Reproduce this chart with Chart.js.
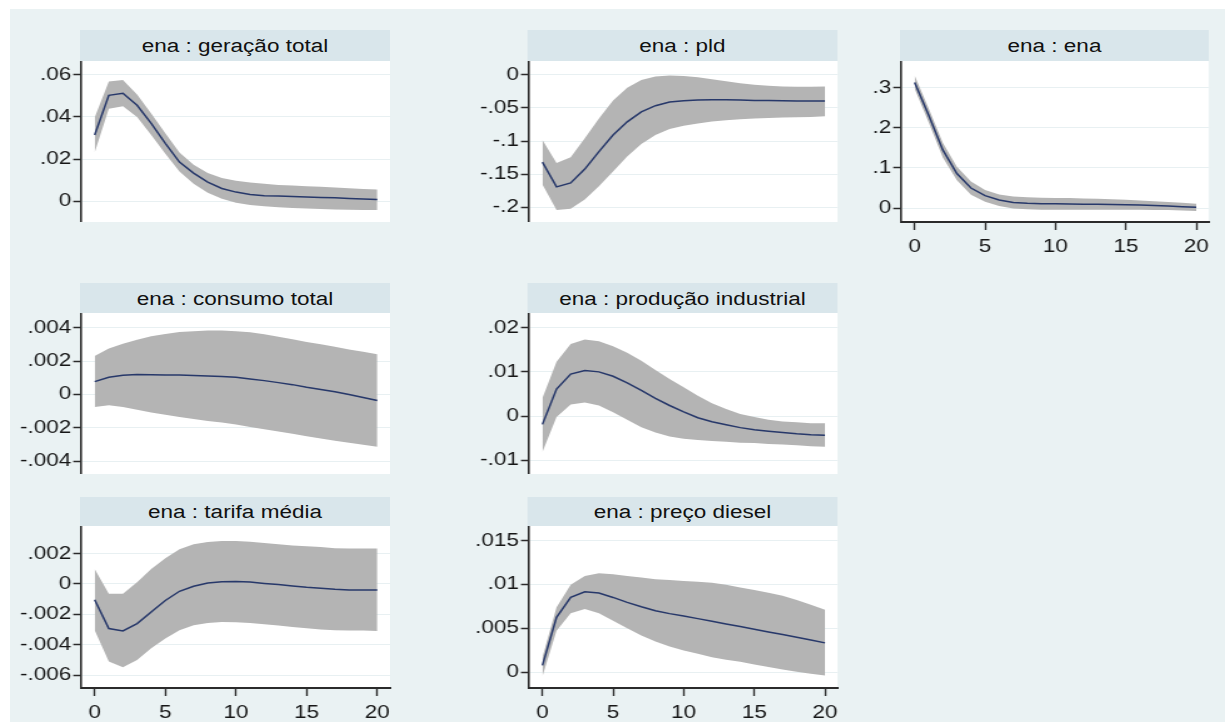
<!DOCTYPE html>
<html lang="pt">
<head>
<meta charset="utf-8">
<title>ena : funções de resposta ao impulso</title>
<script src="https://cdn.jsdelivr.net/npm/chart.js@4.4.1/dist/chart.umd.min.js"></script>
<style>
  html, body { margin: 0; padding: 0; background: #fff; overflow: hidden; }
  #stage { position: absolute; left: 0; top: 0; height: 722px; transform-origin: 0 0; }
  #stage div { position: absolute; }
  .bg { background: #eaf2f3; }
  .head {
    background: #d9e6eb;
    color: #111;
    font: 18px "Liberation Sans", Arial, sans-serif;
    text-align: center;
    box-sizing: border-box;
    padding-top: 1px;
  }
  .plotbg { background: #fff; }
</style>
</head>
<body>
<div id="stage"></div>
<script>
// ---------- horizonte (passos) ----------
const steps = [0, 1, 2, 3, 4, 5, 6, 7, 8, 9, 10, 11, 12, 13, 14, 15, 16, 17, 18, 19, 20];
const xTicks = [0, 5, 10, 15, 20];

// ---------- ena : geração total ----------
const geracaoIrf = [0.0314, 0.0502, 0.0512, 0.0455, 0.0369, 0.0275, 0.0186, 0.0134, 0.0091, 0.0061, 0.0044, 0.0033, 0.0027, 0.0025, 0.0023, 0.0021, 0.0019, 0.0017, 0.0014, 0.0011, 0.0009];
const geracaoHi = [0.0397, 0.0567, 0.0575, 0.0506, 0.0416, 0.0322, 0.0231, 0.0173, 0.0134, 0.0111, 0.0098, 0.0089, 0.0083, 0.0078, 0.0075, 0.0072, 0.0069, 0.0066, 0.0062, 0.0059, 0.0056];
const geracaoLo = [0.0231, 0.0439, 0.0450, 0.0400, 0.0314, 0.0225, 0.0142, 0.0083, 0.0041, 0.0013, -0.0006, -0.0017, -0.0023, -0.0028, -0.0031, -0.0034, -0.0036, -0.0038, -0.0039, -0.0041, -0.0041];
const geracaoTicks = [0, 0.02, 0.04, 0.06];

// ---------- ena : pld ----------
const pldIrf = [-0.1318, -0.1691, -0.1632, -0.1423, -0.1159, -0.0910, -0.0711, -0.0562, -0.0468, -0.0413, -0.0393, -0.0383, -0.0378, -0.0378, -0.0381, -0.0388, -0.0391, -0.0394, -0.0398, -0.0398, -0.0398];
const pldHi = [-0.0985, -0.1333, -0.1244, -0.0960, -0.0662, -0.0388, -0.0199, -0.0080, -0.0030, -0.0015, -0.0020, -0.0040, -0.0070, -0.0100, -0.0129, -0.0154, -0.0169, -0.0179, -0.0184, -0.0184, -0.0179];
const pldLo = [-0.1657, -0.2040, -0.2020, -0.1881, -0.1682, -0.1458, -0.1234, -0.1045, -0.0910, -0.0821, -0.0771, -0.0736, -0.0706, -0.0687, -0.0672, -0.0662, -0.0652, -0.0647, -0.0642, -0.0637, -0.0627];
const pldTicks = [-0.2, -0.15, -0.1, -0.05, 0];

// ---------- ena : ena ----------
const enaIrf = [0.313, 0.231, 0.145, 0.086, 0.050, 0.031, 0.020, 0.014, 0.012, 0.011, 0.0105, 0.010, 0.0098, 0.0095, 0.009, 0.0085, 0.0075, 0.0065, 0.005, 0.0035, 0.002];
const enaHi = [0.330, 0.248, 0.163, 0.103, 0.066, 0.045, 0.034, 0.029, 0.027, 0.026, 0.025, 0.025, 0.024, 0.023, 0.022, 0.021, 0.019, 0.017, 0.015, 0.013, 0.011];
const enaLo = [0.297, 0.213, 0.126, 0.069, 0.033, 0.016, 0.005, -0.001, -0.003, -0.004, -0.004, -0.004, -0.004, -0.004, -0.004, -0.004, -0.004, -0.005, -0.005, -0.006, -0.007];
const enaTicks = [0, 0.1, 0.2, 0.3];

// ---------- ena : consumo total ----------
const consumoIrf = [0.00077, 0.00103, 0.00115, 0.00119, 0.00118, 0.00117, 0.00116, 0.00114, 0.00111, 0.00107, 0.00103, 0.00093, 0.00083, 0.00071, 0.00059, 0.00043, 0.00030, 0.00016, 0.00000, -0.00018, -0.00036];
const consumoHi = [0.00231, 0.00275, 0.00304, 0.00328, 0.00348, 0.00362, 0.00374, 0.00379, 0.00383, 0.00383, 0.00379, 0.00372, 0.00360, 0.00346, 0.00330, 0.00314, 0.00300, 0.00285, 0.00269, 0.00255, 0.00241];
const consumoLo = [-0.00075, -0.00065, -0.00075, -0.00091, -0.00107, -0.00121, -0.00134, -0.00146, -0.00158, -0.00168, -0.00180, -0.00194, -0.00208, -0.00221, -0.00235, -0.00249, -0.00263, -0.00277, -0.00289, -0.00300, -0.00312];
const consumoTicks = [-0.004, -0.002, 0, 0.002, 0.004];

// ---------- ena : produção industrial ----------
const producaoIrf = [-0.00187, 0.00612, 0.00948, 0.01030, 0.01000, 0.00900, 0.00750, 0.00580, 0.00400, 0.00240, 0.00097, -0.00037, -0.00127, -0.00194, -0.00260, -0.00310, -0.00340, -0.00370, -0.00400, -0.00420, -0.00430];
const producaoHi = [0.0041, 0.0123, 0.0163, 0.0173, 0.0169, 0.0158, 0.0143, 0.0125, 0.0104, 0.0084, 0.0065, 0.0046, 0.0029, 0.0016, 0.0005, -0.0002, -0.0008, -0.0012, -0.0014, -0.0016, -0.0016];
const producaoLo = [-0.0081, -0.0002, 0.0026, 0.0031, 0.0024, 0.0009, -0.0008, -0.0025, -0.0037, -0.0046, -0.0051, -0.0054, -0.0056, -0.0058, -0.0060, -0.0061, -0.0063, -0.0064, -0.0066, -0.0068, -0.0069];
const producaoTicks = [-0.01, 0, 0.01, 0.02];

// ---------- ena : tarifa média ----------
const tarifaIrf = [-0.00104, -0.00293, -0.00309, -0.00261, -0.00185, -0.00109, -0.00048, -0.00015, 0.00007, 0.00015, 0.00017, 0.00013, 0.00004, -0.00004, -0.00013, -0.00022, -0.00028, -0.00035, -0.00039, -0.00039, -0.00039];
const tarifaHi = [0.00098, -0.00065, -0.00065, 0.00011, 0.00098, 0.00170, 0.00228, 0.00261, 0.00276, 0.00283, 0.00283, 0.00278, 0.00270, 0.00261, 0.00254, 0.00248, 0.00243, 0.00235, 0.00233, 0.00233, 0.00233];
const tarifaLo = [-0.00304, -0.00511, -0.00548, -0.00500, -0.00424, -0.00359, -0.00304, -0.00272, -0.00257, -0.00250, -0.00252, -0.00257, -0.00265, -0.00274, -0.00283, -0.00291, -0.00300, -0.00304, -0.00307, -0.00307, -0.00309];
const tarifaTicks = [-0.006, -0.004, -0.002, 0, 0.002];

// ---------- ena : preço diesel ----------
const dieselIrf = [0.00076, 0.00625, 0.00852, 0.00917, 0.00902, 0.00852, 0.00795, 0.00746, 0.00701, 0.00667, 0.00640, 0.00610, 0.00580, 0.00549, 0.00519, 0.00489, 0.00458, 0.00428, 0.00398, 0.00367, 0.00333];
const dieselHi = [0.0017, 0.0074, 0.00996, 0.01098, 0.01129, 0.01117, 0.01098, 0.0108, 0.0106, 0.0105, 0.0104, 0.0103, 0.0102, 0.00996, 0.00966, 0.00936, 0.00905, 0.00871, 0.00822, 0.00769, 0.00712];
const dieselLo = [-0.00049, 0.00473, 0.0067, 0.0072, 0.0067, 0.00587, 0.005, 0.00417, 0.00348, 0.00292, 0.00246, 0.00208, 0.0017, 0.0014, 0.00117, 0.00087, 0.00057, 0.0003, 0.00004, -0.00019, -0.00038];
const dieselTicks = [0, 0.005, 0.01, 0.015];

(() => {
  "use strict";

  // the whole graph is laid out in page pixels, then stretched sideways
  const SX = 1.25;
  const FONT = '"Liberation Sans", Arial, sans-serif';
  const LINE = "#27386a";
  const BAND = "#b4b4b4";
  const AXIS = "#2b2b2b";
  const GRID = "#e8f0f2";
  const TEXT = "#161616";

  const YW = 75;    // room for y labels left of the axis
  const XH = 42;    // x axis strip under the bottom panels
  const RPAD = 14;  // room for the last x label
  const X_MIN = -0.95;
  const X_MAX = 20.92;

  // box = [left, top, right, bottom] of the white plot region
  const panels = [
    { title: "ena : geração total", irf: geracaoIrf, hi: geracaoHi, lo: geracaoLo, ticks: geracaoTicks,
      yMin: -0.0094, yMax: 0.0661, head: 30, box: [81, 61, 390, 222], xAxis: false },
    { title: "ena : pld", irf: pldIrf, hi: pldHi, lo: pldLo, ticks: pldTicks,
      yMin: -0.2209, yMax: 0.0194, head: 30, box: [529, 61, 837, 222], xAxis: false },
    { title: "ena : ena", irf: enaIrf, hi: enaHi, lo: enaLo, ticks: enaTicks,
      yMin: -0.0347, yMax: 0.3645, head: 30, box: [901, 61, 1209, 222], xAxis: true },
    { title: "ena : consumo total", irf: consumoIrf, hi: consumoHi, lo: consumoLo, ticks: consumoTicks,
      yMin: -0.00471, yMax: 0.00483, head: 283, box: [81, 313, 390, 474], xAxis: false },
    { title: "ena : produção industrial", irf: producaoIrf, hi: producaoHi, lo: producaoLo, ticks: producaoTicks,
      yMin: -0.01291, yMax: 0.02313, head: 283, box: [529, 313, 837, 474], xAxis: false },
    { title: "ena : tarifa média", irf: tarifaIrf, hi: tarifaHi, lo: tarifaLo, ticks: tarifaTicks,
      yMin: -0.00685, yMax: 0.00377, head: 497, box: [81, 526, 390, 688], xAxis: true },
    { title: "ena : preço diesel", irf: dieselIrf, hi: dieselHi, lo: dieselLo, ticks: dieselTicks,
      yMin: -0.00182, yMax: 0.01659, head: 497, box: [529, 526, 837, 688], xAxis: true }
  ];

  const stage = document.getElementById("stage");
  stage.style.width = 1227 / SX + "px";
  stage.style.transform = `scaleX(${SX})`;

  // stata style labels: .05, -.002, 0
  const stataLabel = (v) => {
    if (v === 0) return "0";
    return String(+v.toFixed(4)).replace(/^(-?)0\./, "$1.");
  };

  const xy = (vals) => steps.map((s, i) => ({ x: s, y: vals[i] }));

  const box = (cls, l, t, w, h) => {
    const d = document.createElement("div");
    d.className = cls;
    Object.assign(d.style, {
      left: l / SX + "px",
      top: t + "px",
      width: w / SX + "px",
      height: h + "px"
    });
    stage.appendChild(d);
    return d;
  };

  box("bg", 10, 9, 1215, 713);

  function addPanel(p) {
    const [l, t, r, b] = p.box;

    const head = box("head", l - 1, p.head, r - l + 1, t - p.head);
    head.style.lineHeight = (t - p.head) + "px";
    head.textContent = p.title;

    box("plotbg", l, t, r - l, b - t);

    const wrap = box("plot", l - YW, t, r - l + YW + RPAD, b - t + (p.xAxis ? XH : 0));
    const cv = document.createElement("canvas");
    wrap.appendChild(cv);

    new Chart(cv, {
      type: "line",
      data: {
        datasets: [
          { data: xy(p.irf), borderColor: LINE, borderWidth: 1.5, pointRadius: 0, tension: 0, fill: false },
          { data: xy(p.hi), borderWidth: 0, pointRadius: 0, tension: 0, backgroundColor: BAND, fill: "+1" },
          { data: xy(p.lo), borderWidth: 0, pointRadius: 0, tension: 0, fill: false }
        ]
      },
      options: {
        responsive: true,
        maintainAspectRatio: false,
        animation: false,
        events: [],
        layout: { padding: { left: 0, right: RPAD / SX, top: 0, bottom: 0 } },
        plugins: {
          legend: { display: false },
          tooltip: { enabled: false }
        },
        scales: {
          x: {
            type: "linear",
            display: p.xAxis,
            min: X_MIN,
            max: X_MAX,
            bounds: "data",
            afterBuildTicks: (s) => { s.ticks = xTicks.map((v) => ({ value: v })); },
            afterFit: (s) => {
              if (p.xAxis) s.height = XH;
              s.paddingLeft = 0;
              s.paddingRight = 0;
            },
            grid: { drawOnChartArea: false, tickLength: 8, tickColor: AXIS, tickWidth: 1.4 },
            border: { color: AXIS, width: 2 },
            ticks: { padding: 6, color: TEXT, autoSkip: false, maxRotation: 0, font: { family: FONT, size: 18 } }
          },
          y: {
            min: p.yMin,
            max: p.yMax,
            bounds: "data",
            afterBuildTicks: (s) => { s.ticks = p.ticks.map((v) => ({ value: v })); },
            afterFit: (s) => { s.width = YW / SX; s.paddingTop = 0; s.paddingBottom = 0; },
            grid: { color: GRID, lineWidth: 1, tickLength: 8 / SX, tickColor: AXIS, tickWidth: 1.5 },
            border: { color: AXIS, width: 1.6 },
            ticks: { padding: 1.6, color: TEXT, autoSkip: false, callback: stataLabel, font: { family: FONT, size: 18 } }
          }
        }
      }
    });
  }

  panels.forEach(addPanel);
})();
</script>
</body>
</html>
